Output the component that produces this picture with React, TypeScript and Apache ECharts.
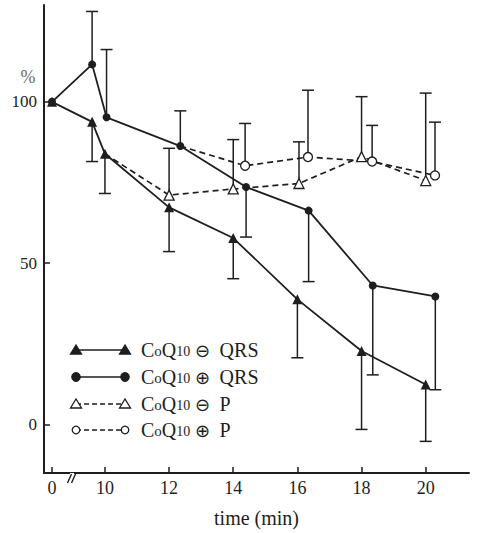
import React, { useEffect, useRef } from "react";
import * as echarts from "echarts";

// ---- data ----
// x positions: "0" is drawn at 8.35 on the broken axis
const xTri = [8.35, 9.6, 10, 12, 14, 16, 18, 20];
const qrsMinus = [100, 93.8, 83.9, 67.3, 57.8, 38.8, 22.8, 12.4];
const qrsMinusErr = [null, 81.5, 71.6, 53.6, 45.2, 20.7, -1.5, -5.2];

const xCirc = [8.35, 9.6, 10.05, 12.35, 14.4, 16.35, 18.35, 20.3];
const qrsPlus = [100, 111.6, 95.2, 86.3, 73.6, 66.3, 43.1, 39.7];
const qrsPlusErr = [null, 128, 116.2, 97.2, 58.1, 44.3, 15.4, 10.8];

const xTriP = [10, 12, 14, 16.05, 18, 20];
const pMinus = [83.9, 71.1, 73.0, 74.7, 83.0, 75.6];
const pMinusErr = [null, 85.6, 88.3, 87.6, 101.6, 102.7];

const xCircP = [12.35, 14.37, 16.33, 18.33, 20.29];
const pPlus = [86.3, 80.2, 82.9, 81.5, 77.2];
const pPlusErr = [null, 93.3, 103.6, 92.7, 93.7];

const xTicks = [8.35, 10, 12, 14, 16, 18, 20];
const xTickLabels = ["0", "10", "12", "14", "16", "18", "20"];
const yTicks = [0, 50, 100];

const seriesNames = ["CoQ10 ⊖ QRS", "CoQ10 ⊕ QRS", "CoQ10 ⊖ P", "CoQ10 ⊕ P"];
const seriesSigns = ["⊖", "⊕", "⊖", "⊕"];
const seriesTails = ["QRS", "QRS", "P", "P"];

const INK = "#1e1e1e";
const FONT = "'Liberation Serif', 'DejaVu Serif', serif";

function pairs(xs: number[], ys: number[]) {
  return xs.map((x, i) => [x, ys[i]]);
}
function errs(xs: number[], ys: number[], es: (number | null)[]) {
  const out: number[][] = [];
  xs.forEach((x, i) => {
    if (es[i] !== null && es[i] !== undefined) out.push([x, ys[i], es[i] as number]);
  });
  return out;
}

export default function App() {
  const ref = useRef<HTMLDivElement>(null);
  useEffect(() => {
    if (!ref.current) return;
    const chart = echarts.init(ref.current, undefined, { renderer: "svg" });

    const errRender = (params: any, api: any) => {
      const x = api.value(0);
      const p0 = api.coord([x, api.value(1)]);
      const p1 = api.coord([x, api.value(2)]);
      const st = { stroke: INK, lineWidth: 1.5 };
      return {
        type: "group",
        children: [
          { type: "line", shape: { x1: p0[0], y1: p0[1], x2: p1[0], y2: p1[1] }, style: st },
          { type: "line", shape: { x1: p1[0] - 6, y1: p1[1], x2: p1[0] + 6, y2: p1[1] }, style: st },
        ],
      };
    };

    const allErr = [
      ...errs(xTri, qrsMinus, qrsMinusErr),
      ...errs(xCirc, qrsPlus, qrsPlusErr),
      ...errs(xTriP, pMinus, pMinusErr),
      ...errs(xCircP, pPlus, pPlusErr),
    ];

    // legend drawn as graphics (symbol at both ends like the original)
    const legendRows = [350, 377, 404, 430];
    const lx1 = 76, lx2 = 125;
    const legendGraphics: any[] = [];
    legendRows.forEach((y, i) => {
      const dashed = i >= 2;
      legendGraphics.push({
        type: "line",
        shape: { x1: lx1, y1: y, x2: lx2, y2: y },
        style: { stroke: INK, lineWidth: 1.6, lineDash: dashed ? [5, 3] : null },
        z: 10,
      });
      [lx1, lx2].forEach((cx) => {
        if (i === 0 || i === 2) {
          legendGraphics.push({
            type: "polygon",
            shape: { points: [[cx, y - 5], [cx - 5.5, y + 4], [cx + 5.5, y + 4]] },
            style: { fill: i === 0 ? INK : "#fff", stroke: INK, lineWidth: 1.3 },
            z: 11,
          });
        } else {
          legendGraphics.push({
            type: "circle",
            shape: { cx, cy: y, r: i === 1 ? 4.2 : 3.8 },
            style: { fill: i === 1 ? INK : "#fff", stroke: INK, lineWidth: 1.3 },
            z: 11,
          });
        }
      });
      legendGraphics.push({
        type: "text",
        x: 141,
        y,
        style: {
          text: `{a|C}{b|o}{a|Q}{c|10} {d|${seriesSigns[i]}}  {a|${seriesTails[i]}}`,
          verticalAlign: "middle",
          fill: INK,
          fontFamily: FONT,
          fontSize: 19,
          rich: {
            a: { fontFamily: FONT, fontSize: 20, fill: INK, verticalAlign: "bottom" },
            b: { fontFamily: FONT, fontSize: 15, fill: INK, verticalAlign: "bottom", padding: [0, 0, 2, 0] },
            c: { fontFamily: FONT, fontSize: 14, fill: INK, verticalAlign: "bottom", padding: [0, 0, 2, 0] },
            d: { fontFamily: "'DejaVu Sans', sans-serif", fontSize: 18, fill: INK, verticalAlign: "middle" },
          },
        },
        z: 11,
      });
    });

    const option: any = {
      animation: false,
      backgroundColor: "#fff",
      textStyle: { fontFamily: FONT, color: INK },
      grid: { left: 44, right: 8, top: 5, bottom: 56 },
      xAxis: {
        type: "value",
        min: 8.1,
        max: 21.35,
        name: "time (min)",
        nameLocation: "middle",
        nameGap: 35,
        nameTextStyle: { fontFamily: FONT, fontSize: 20, color: INK },
        axisLine: { show: true, onZero: false, lineStyle: { color: INK, width: 2 } },
        axisTick: { show: true, inside: true, length: 6, customValues: xTicks, lineStyle: { color: INK, width: 1.5 } },
        axisLabel: {
          customValues: xTicks,
          margin: 6,
          fontFamily: FONT,
          fontSize: 18,
          color: INK,
          formatter: (v: number) => {
            const idx = xTicks.findIndex((t) => Math.abs(t - v) < 1e-6);
            return idx >= 0 ? xTickLabels[idx] : "";
          },
        },
        splitLine: { show: false },
      },
      yAxis: {
        type: "value",
        min: -15,
        max: 130,
        axisLine: { show: true, onZero: false, lineStyle: { color: INK, width: 2 } },
        axisTick: { show: true, inside: true, length: 6, customValues: yTicks, lineStyle: { color: INK, width: 1.5 } },
        axisLabel: { customValues: yTicks, margin: 7, fontFamily: FONT, fontSize: 17, color: INK },
        splitLine: { show: false },
      },
      graphic: [
        {
          type: "text",
          x: 28,
          y: 77,
          style: { text: "%", fontFamily: FONT, fontSize: 18, fill: "#6a6a6a", align: "center", verticalAlign: "middle" },
        },
        // axis break marks
        { type: "rect", shape: { x: 70, y: 473, width: 4, height: 8 }, style: { fill: "#fff" }, z: 20 },
        { type: "line", shape: { x1: 67.5, y1: 483, x2: 71.5, y2: 474 }, style: { stroke: INK, lineWidth: 1.4 }, z: 21 },
        { type: "line", shape: { x1: 71.5, y1: 483, x2: 75.5, y2: 474 }, style: { stroke: INK, lineWidth: 1.4 }, z: 21 },
        ...legendGraphics,
      ],
      series: [
        {
          type: "custom",
          name: "error",
          renderItem: errRender,
          data: allErr,
          encode: { x: 0, y: [1, 2] },
          z: 1,
          silent: true,
        },
        {
          type: "line",
          name: seriesNames[2],
          data: pairs(xTriP, pMinus).map((d, i) => (i === 0 ? { value: d, symbol: "none" } : d)),
          symbol: "triangle",
          symbolSize: 10,
          showAllSymbol: true,
          lineStyle: { color: INK, width: 1.7, type: [6, 4] },
          itemStyle: { color: "#fff", borderColor: INK, borderWidth: 1.3 },
          z: 3,
        },
        {
          type: "line",
          name: seriesNames[3],
          data: pairs(xCircP, pPlus).map((d, i) => (i === 0 ? { value: d, symbol: "none" } : d)),
          symbol: "circle",
          symbolSize: 9,
          showAllSymbol: true,
          lineStyle: { color: INK, width: 1.7, type: [6, 4] },
          itemStyle: { color: "#fff", borderColor: INK, borderWidth: 1.3 },
          z: 3,
        },
        {
          type: "line",
          name: seriesNames[0],
          data: pairs(xTri, qrsMinus),
          symbol: "triangle",
          symbolSize: 10,
          showAllSymbol: true,
          lineStyle: { color: INK, width: 1.8 },
          itemStyle: { color: INK, borderColor: INK, borderWidth: 0 },
          z: 4,
        },
        {
          type: "line",
          name: seriesNames[1],
          data: pairs(xCirc, qrsPlus),
          symbol: "circle",
          symbolSize: 8,
          showAllSymbol: true,
          lineStyle: { color: INK, width: 1.8 },
          itemStyle: { color: INK, borderColor: INK, borderWidth: 0 },
          z: 5,
        },
      ],
    };
    chart.setOption(option);
    return () => chart.dispose();
  }, []);
  return <div ref={ref} style={{ position: "fixed", left: 0, top: 0, width: 477, height: 533 }} />;
}
